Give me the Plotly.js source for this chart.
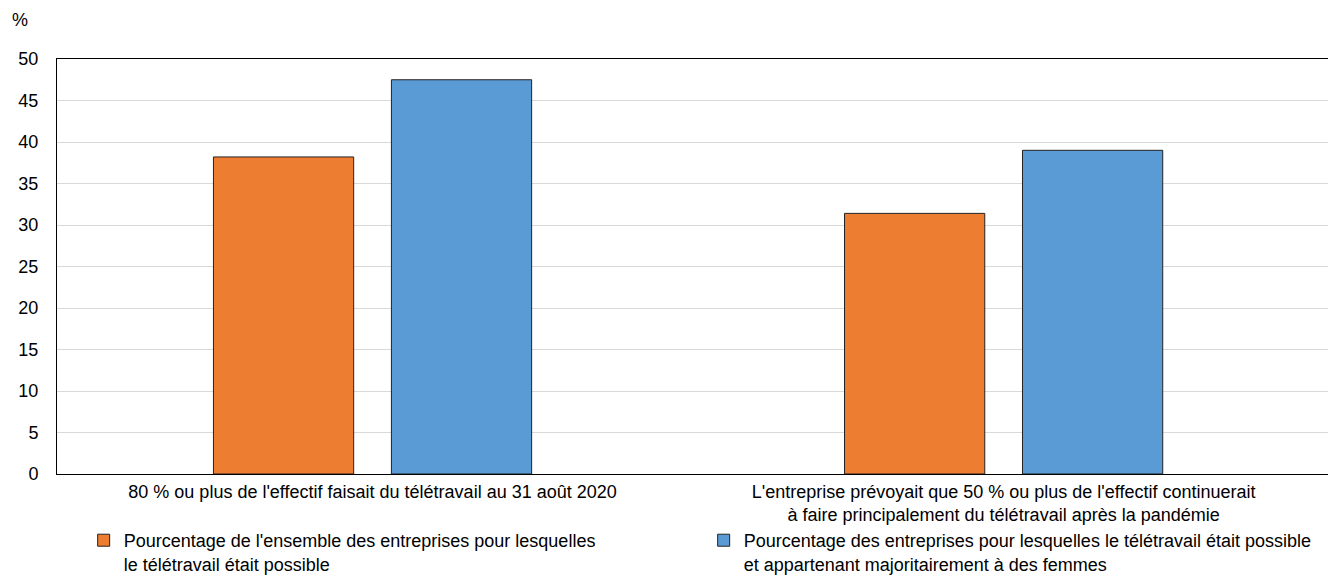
<!DOCTYPE html>
<html>
<head>
<meta charset="utf-8">
<script src="https://cdn.plot.ly/plotly-3.0.1.min.js"></script>
<style>html,body{margin:0;padding:0;background:#fff;}#chart{width:1328px;height:578px;}</style>
</head>
<body>
<div id="chart"></div>
<script>
const categories = ["c1", "c2"];
const categoryLabels = [
  "80 % ou plus de l'effectif faisait du télétravail au 31 août 2020",
  "L'entreprise prévoyait que 50 % ou plus de l'effectif continuerait<br>à faire principalement du télétravail après la pandémie"
];
const seriesNames = [
  "Pourcentage de l'ensemble des entreprises pour lesquelles<br>le télétravail était possible",
  "Pourcentage des entreprises pour lesquelles le télétravail était possible<br>et appartenant majoritairement à des femmes"
];
const allFirms = [38.2, 31.4];
const womenOwned = [47.5, 39.0];
const yTicks = [0, 5, 10, 15, 20, 25, 30, 35, 40, 45, 50];

const FONT = "'Liberation Sans', Arial, sans-serif";

const traces = [
  {type: 'bar', x: categories, y: allFirms, name: seriesNames[0],
   marker: {color: '#ED7D31', line: {color: '#222', width: 1}}},
  {type: 'bar', x: categories, y: womenOwned, name: seriesNames[1],
   marker: {color: '#5B9BD5', line: {color: '#222', width: 1}}}
];

const layout = {
  width: 1328, height: 578,
  margin: {l: 57, r: 0, t: 59, b: 104, autoexpand: false},
  paper_bgcolor: '#fff', plot_bgcolor: '#fff',
  barmode: 'group', bargap: 0.436, bargroupgap: 0.212,
  font: {family: FONT, size: 18, color: '#000'},
  xaxis: {type: 'category', tickvals: categories, ticktext: categoryLabels,
          range: [-0.5, 1.514],
          ticks: '', showgrid: false, ticklabelstandoff: 1,
          tickfont: {family: FONT, size: 18, color: '#000'},
          showline: true, linecolor: '#000', linewidth: 1, mirror: true, zeroline: false},
  yaxis: {range: [0, 50], tickvals: yTicks, ticktext: yTicks.map(String),
          showgrid: true, gridcolor: '#d9d9d9', gridwidth: 1,
          showline: true, linecolor: '#000', linewidth: 1, mirror: false,
          zeroline: false, ticks: '', ticklabelstandoff: 14,
          tickfont: {family: FONT, size: 18, color: '#000'}},
  legend: {orientation: 'h', xref: 'container', x: 0.063, xanchor: 'left',
           yref: 'paper', y: -0.1157, yanchor: 'top',
           valign: 'top', entrywidth: 575, entrywidthmode: 'pixels',
           bgcolor: 'rgba(0,0,0,0)', itemwidth: 30,
           font: {family: FONT, size: 18, color: '#000'}, tracegroupgap: 0},
  annotations: [{
    x: 0, xref: 'paper', y: 1, yref: 'paper', xanchor: 'center', yanchor: 'middle',
    xshift: -37, yshift: 39, text: '%', showarrow: false,
    font: {family: FONT, size: 18, color: '#000'}
  }],
  showlegend: true
};

Plotly.newPlot('chart', traces, layout, {staticPlot: true, displayModeBar: false});
</script>
</body>
</html>
